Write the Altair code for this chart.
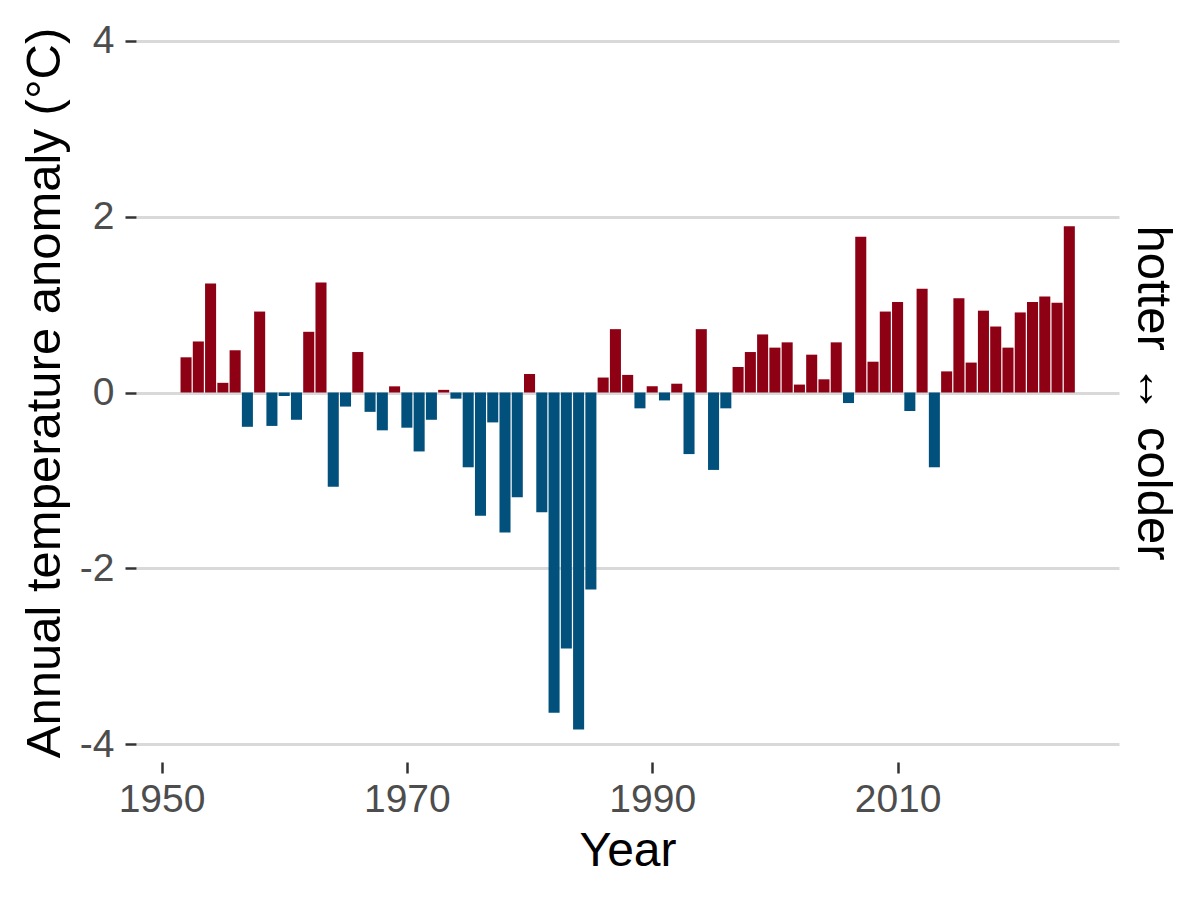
import altair as alt
import pandas as pd

years = list(range(1952, 2025))
anomaly = [
    0.40, 0.58, 1.24, 0.11, 0.48, -0.39, 0.92, -0.38, -0.04, -0.31,   # 1952-1961
    0.69, 1.25, -1.07, -0.16, 0.46, -0.22, -0.43, 0.07, -0.40, -0.67,  # 1962-1971
    -0.31, 0.03, -0.07, -0.85, -1.40, -0.34, -1.59, -1.19, 0.21, -1.36,  # 1972-1981
    -3.64, -2.91, -3.83, -2.24, 0.17, 0.72, 0.20, -0.18, 0.07, -0.09,  # 1982-1991
    0.10, -0.70, 0.72, -0.88, -0.18, 0.29, 0.46, 0.66, 0.51, 0.57,     # 1992-2001
    0.09, 0.43, 0.15, 0.57, -0.12, 1.77, 0.35, 0.92, 1.03, -0.21,      # 2002-2011
    1.18, -0.85, 0.24, 1.07, 0.34, 0.93, 0.75, 0.51, 0.91, 1.03,       # 2012-2021
    1.09, 1.02, 1.89,                                                  # 2022-2024
]
x_ticks = [1950, 1970, 1990, 2010]
y_ticks = [-4, -2, 0, 2, 4]

df = pd.DataFrame({"Year": years, "anomaly": anomaly})

FONT = "Liberation Sans, Arial, sans-serif"
RED = "#8E0013"
BLUE = "#02507C"

x_scale = alt.Scale(domain=[1947.92, 2028.05], nice=False, zero=False)
y_scale = alt.Scale(domain=[-4.2, 4.2], nice=False, zero=False)

x_axis = alt.Axis(
    title="Year",
    values=x_ticks,
    format="d",
    grid=False,
    domain=False,
    ticks=True,
    tickSize=11,
    tickWidth=2.5,
    tickColor="#333333",
    labelPadding=7,
    labelFontSize=39,
    labelColor="#4D4D4D",
    titleFontSize=48,
    titleColor="#000000",
    titleFontWeight="normal",
    titlePadding=8,
)

base = alt.Chart(df).transform_calculate(
    x0="datum.Year - 0.45",
    x1="datum.Year + 0.45",
    sign="datum.anomaly >= 0 ? 'hotter' : 'colder'",
)

bars = base.mark_bar().encode(
    x=alt.X("x0:Q", scale=x_scale, axis=x_axis),
    x2="x1:Q",
    y=alt.Y(
        "anomaly:Q",
        scale=y_scale,
        axis=alt.Axis(
            title="Annual temperature anomaly (°C)",
            values=y_ticks,
            labelExpr="'' + datum.value",
            grid=True,
            gridColor="#D9D9D9",
            gridWidth=3,
            domain=False,
            ticks=True,
            tickSize=11,
            tickWidth=2.5,
            tickColor="#333333",
            labelPadding=11,
            labelFontSize=39,
            labelColor="#4D4D4D",
            titleFontSize=49,
            titleColor="#000000",
            titleFontWeight="normal",
            titlePadding=10,
        ),
    ),
    y2=alt.datum(0),
    color=alt.Color(
        "sign:N",
        scale=alt.Scale(domain=["hotter", "colder"], range=[RED, BLUE]),
        legend=None,
    ),
)

right = base.mark_bar(opacity=0).encode(
    x=alt.X("x0:Q", scale=x_scale, axis=x_axis),
    x2="x1:Q",
    y=alt.Y(
        "anomaly:Q",
        scale=y_scale,
        axis=alt.Axis(
            orient="right",
            title="hotter ↔ colder",
            labels=False,
            ticks=False,
            domain=False,
            grid=False,
            titleAngle=90,
            titleFontSize=49,
            titleColor="#000000",
            titleFontWeight="normal",
            titlePadding=8,
        ),
    ),
    y2=alt.datum(0),
)

chart = (
    alt.layer(bars, right)
    .resolve_axis(y="independent")
    .properties(
        width=983,
        height=739,
        autosize=alt.AutoSizeParams(type="none"),
        padding={"left": 128, "top": 15, "right": 72, "bottom": 120},
        background="#FFFFFF",
    )
    .configure(font=FONT)
    .configure_view(strokeWidth=0, stroke="transparent")
)

chart.save("out.html", embed_options={"renderer": "svg", "actions": False})
